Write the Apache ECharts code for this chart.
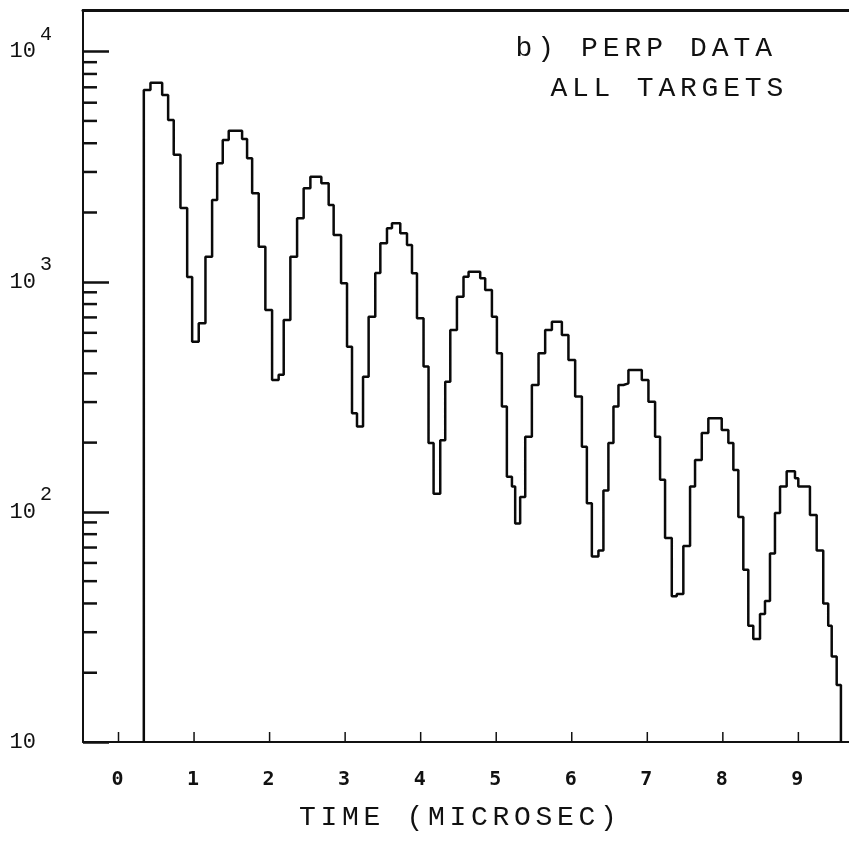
<!DOCTYPE html>
<html><head><meta charset="utf-8">
<script src="https://cdn.jsdelivr.net/npm/echarts@6/dist/echarts.min.js"></script>
<style>html,body{margin:0;padding:0;background:#fff}#c{width:849px;height:853px}</style>
</head><body><div id="c"></div>
<script>
// Time-bin start (microseconds) and counts
const binStart = [
  0.335,0.423,0.578,0.657,0.731,0.820,0.909,0.975,1.062,1.151,
  1.239,1.306,1.380,1.459,1.636,1.702,1.769,1.856,1.944,2.033,
  2.120,2.187,2.275,2.364,2.451,2.540,2.685,2.782,2.848,2.946,
  3.025,3.091,3.157,3.237,3.311,3.399,3.466,3.554,3.620,3.730,
  3.819,3.885,3.951,4.038,4.104,4.171,4.259,4.325,4.392,4.480,
  4.567,4.634,4.788,4.854,4.943,5.009,5.075,5.141,5.208,5.251,
  5.317,5.384,5.472,5.560,5.648,5.737,5.869,5.956,6.045,6.134,
  6.200,6.266,6.353,6.419,6.485,6.552,6.618,6.684,6.750,6.927,
  7.015,7.103,7.169,7.235,7.324,7.390,7.477,7.566,7.632,7.721,
  7.808,7.985,8.073,8.139,8.205,8.271,8.337,8.403,8.492,8.558,
  8.624,8.690,8.757,8.845,8.955,8.999,9.153,9.242,9.329,9.395,
  9.441,9.507
];
const counts = [
  6820,7330,6480,5050,3560,2090,1050,549,660,1286,
  2268,3273,4132,4536,4174,3441,2424,1421,754,374,
  394,682,1286,1888,2549,2863,2680,2157,1597,985,
  522,268,235,387,705,1092,1470,1708,1796,1624,
  1445,1089,694,428,199,120,205,368,617,861,
  1052,1106,1036,921,705,489,287,142,129,89,
  116,212,356,489,617,671,587,457,317,192,
  109,64,68,124,199,287,356,362,414,374,
  301,212,138,77,43,44,71,129,168,220,
  255,227,199,152,95,56,32,28,36,41,
  66,99,129,150,140,129,97,68,40,32,
  23.5,17.7
];
const histEnd = 9.563;
const xTickValues = [0,1,2,3,4,5,6,7,8,9];
const yMajor = [10,100,1000,10000];
const yMinorMultipliers = [2,3,4,5,6,7,8,9];
const xMin = -0.47, xMax = 9.67, yMin = 10, yMax = 15170;
const titleLine1 = 'b) PERP DATA';
const titleLine2 = 'ALL TARGETS';
const xName = 'TIME (MICROSEC)';

const FONT = 'Liberation Mono';

// typewriter-style spaced text via fixed-width rich cells
const spaced = s => s.split('').map(ch => ch === ' ' ? '{s| }' : '{c|' + ch + '}').join('');
const cellRich = (w, size) => ({
  c: {fontFamily: FONT, fontSize: size, fontWeight: 'normal', color: '#111', width: w, align: 'center'},
  s: {fontFamily: FONT, fontSize: size, fontWeight: 'normal', color: '#111', width: w, align: 'center'}
});

// step polyline points
const stepData = [[binStart[0], yMin]];
for (let i = 0; i < binStart.length; i++) stepData.push([binStart[i], counts[i]]);
stepData.push([histEnd, counts[counts.length - 1]]);
stepData.push([histEnd, yMin]);

// minor ticks on y
const minorData = [];
yMajor.forEach(d => yMinorMultipliers.forEach(m => { if (m * d < yMax) minorData.push([xMin, m * d]); }));
const xTickData = xTickValues.map(v => [v, yMin]);

const isPow10 = v => Math.abs(Math.log10(v) - Math.round(Math.log10(v))) < 1e-6;

const chart = echarts.init(document.getElementById('c'), null, {renderer: 'canvas'});
chart.setOption({
  animation: false,
  backgroundColor: '#fff',
  title: [
    {text: spaced(titleLine1), left: 508, top: 30, textStyle: {fontWeight: 'normal', rich: cellRich(21.8, 28)}},
    {text: spaced(titleLine2), left: 543, top: 70, textStyle: {fontWeight: 'normal', rich: cellRich(21.6, 28)}}
  ],
  grid: {left: 83, right: 0, top: 10, bottom: 111, containLabel: false},
  xAxis: [{
    type: 'value', min: xMin, max: xMax,
    axisLine: {show: true, onZero: false, lineStyle: {color: '#111', width: 2}},
    axisTick: {show: false},
    splitLine: {show: false},
    axisLabel: {show: false},
    name: spaced(xName), nameLocation: 'middle', nameGap: 62,
    nameTextStyle: {padding: [0, 16, 0, 0], rich: cellRich(21.5, 28)}
  }, {
    type: 'value', position: 'top', min: xMin, max: xMax,
    axisLine: {show: true, onZero: false, lineStyle: {color: '#111', width: 3}},
    axisTick: {show: false}, axisLabel: {show: false}, splitLine: {show: false}
  }],
  yAxis: {
    type: 'log', logBase: 10, min: yMin, max: yMax,
    axisLine: {show: true, onZero: false, lineStyle: {color: '#111', width: 2}},
    axisTick: {show: true, inside: true, length: 26, lineStyle: {color: '#111', width: 2.5}},
    splitLine: {show: false},
    axisLabel: {
      margin: 30, align: 'right',
      formatter: v => {
        if (!isPow10(v)) return '';
        const e = Math.round(Math.log10(v));
        return e === 1 ? '{b|10}{e| }' : '{b|10}{e|' + e + '}';
      },
      rich: {
        b: {fontFamily: FONT, fontSize: 22, color: '#111'},
        e: {fontFamily: FONT, fontSize: 20, color: '#111', width: 14, align: 'left', padding: [0, 0, 34, 3]}
      }
    }
  },
  series: [
    {
      type: 'line', step: 'end', data: stepData, showSymbol: false, symbol: 'none',
      lineStyle: {color: '#0a0a0a', width: 2.5}, z: 5, clip: false
    },
    {
      type: 'custom', data: minorData, clip: false, z: 4,
      renderItem: (params, api) => {
        const p = api.coord([api.value(0), api.value(1)]);
        return {type: 'line', shape: {x1: p[0], y1: p[1], x2: p[0] + 14, y2: p[1]}, style: {stroke: '#111', lineWidth: 2.5}};
      }
    },
    {
      type: 'custom', data: xTickData, clip: false, z: 4,
      renderItem: (params, api) => {
        const p = api.coord([api.value(0), api.value(1)]);
        return {type: 'group', children: [
          {type: 'line', shape: {x1: p[0], y1: p[1], x2: p[0], y2: p[1] - 10}, style: {stroke: '#111', lineWidth: 1.5}},
          {type: 'text', style: {text: String(api.value(0)), x: p[0] - 1, y: p[1] + 38, align: 'center', verticalAlign: 'middle',
            font: 'bold 20px "DejaVu Sans Mono"', fill: '#111'}}
        ]};
      }
    }
  ]
});
</script>
</body></html>
